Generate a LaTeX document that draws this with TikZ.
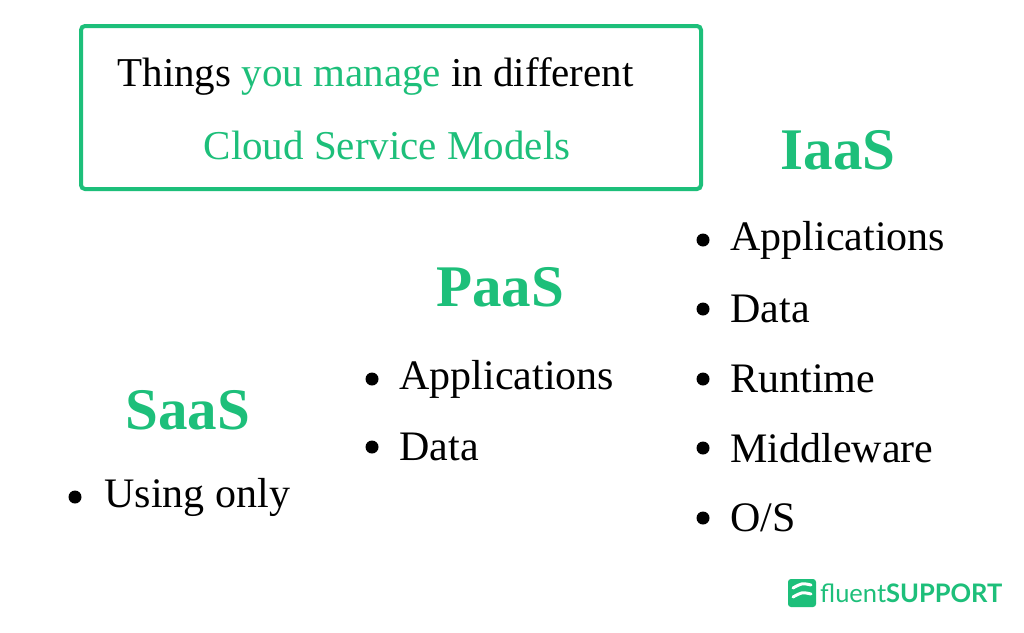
\documentclass[tikz,border=0pt]{standalone}
\usepackage{fontspec}
\setmainfont{Liberation Serif}
\newfontfamily\logofont{Lato}
\definecolor{gr}{HTML}{1DBF7A}
\begin{document}
\begin{tikzpicture}[x=1pt,y=-1pt,
  head/.style={text=gr,font=\fontsize{59}{59}\selectfont\bfseries},
  item/.style={anchor=west,font=\fontsize{42}{42}\selectfont},
  dot/.style={circle,fill=black,inner sep=0pt,minimum size=13pt}]
\useasboundingbox (0,0) rectangle (1024,632);
\fill[white] (0,0) rectangle (1024,632);
\node[draw=gr,line width=4pt,rounded corners=4pt,minimum width=620pt,minimum height=163pt] (box) at (391,107.5) {};
\node[font=\fontsize{41}{41}\selectfont,anchor=west] (t1) at (114,76) {Things \textcolor{gr}{you manage} in different};
\node[font=\fontsize{41}{41}\selectfont,text=gr] (t2) at (387,145) {Cloud Service Models};
\node[head] (iaas) at (838,150) {IaaS};
\node[head] (paas) at (500,287) {PaaS};
\node[head] (saas) at (188,410) {SaaS};
\foreach \y/\t [count=\i] in {240/Applications,309/Data,379/Runtime,448/Middleware,518/{O/S}}{
  \node[dot] (id\i) at (703,\y) {};
  \node[item] (i\i) at (727,\y) {\t};}
\foreach \y/\t [count=\i] in {379/Applications,447/Data}{
  \node[dot] (pd\i) at (372,\y) {};
  \node[item] (p\i) at (396,\y) {\t};}
\node[dot] (sd1) at (75,497) {};
\node[item] (s1) at (101,497) {Using only};
\node[fill=gr,rounded corners=3pt,minimum size=28pt] (logo) at (802,593) {};
\draw[white,line width=3pt,line cap=round] (793,588) .. controls (802,583) .. (811,585);
\draw[white,line width=3pt,line cap=round] (793,597) .. controls (802,592) .. (811,594);
\node[anchor=west,inner sep=0pt,text=gr,font=\logofont\fontsize{25.5}{25.5}\selectfont] (lt) at (820,593) {fluent\textbf{SUPPORT}};
\end{tikzpicture}
\end{document}
